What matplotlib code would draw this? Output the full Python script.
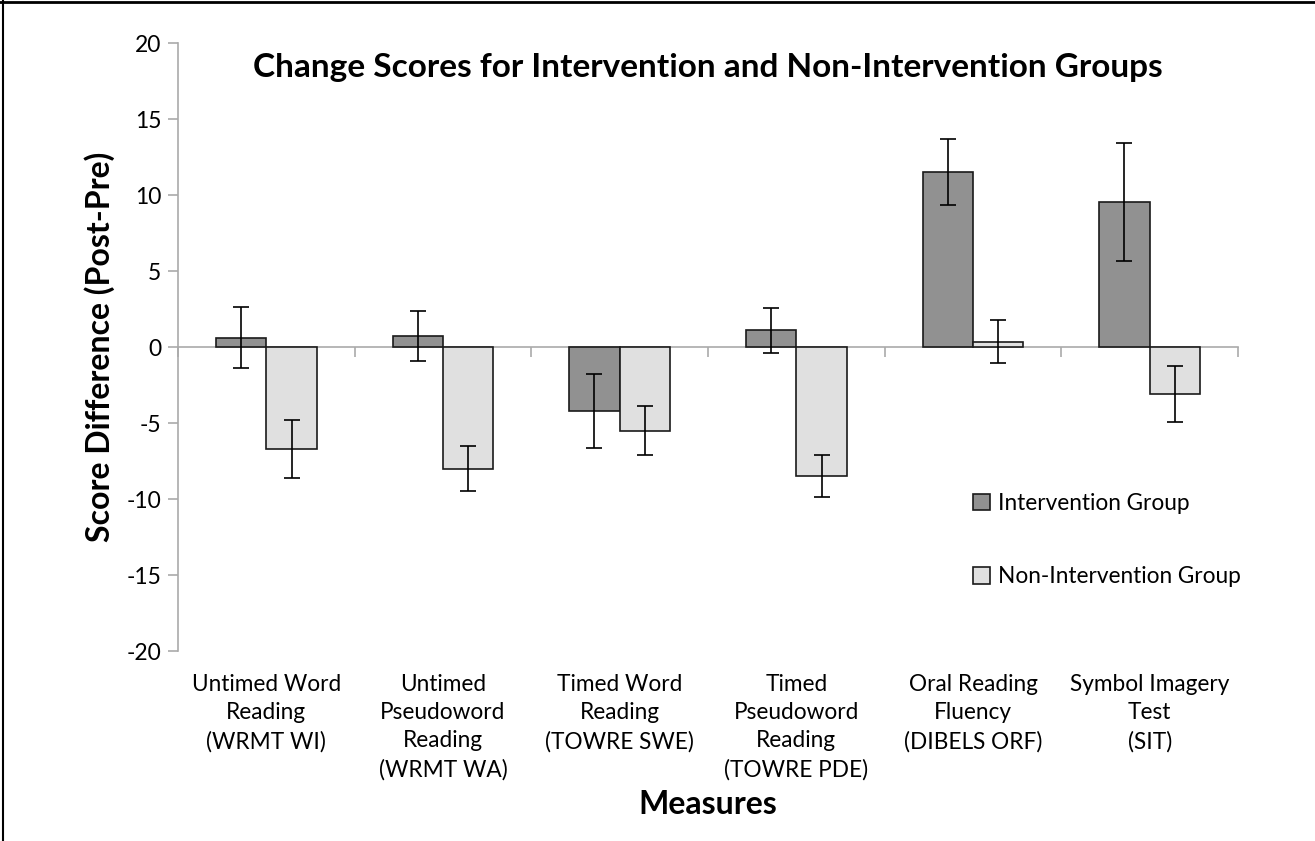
import matplotlib
matplotlib.use("Agg")
import matplotlib.pyplot as plt
import numpy as np
from matplotlib.lines import Line2D
import matplotlib.transforms as mtransforms

categories = [
    "Untimed Word\nReading\n(WRMT WI)",
    "Untimed\nPseudoword\nReading\n(WRMT WA)",
    "Timed Word\nReading\n(TOWRE SWE)",
    "Timed\nPseudoword\nReading\n(TOWRE PDE)",
    "Oral Reading\nFluency\n(DIBELS ORF)",
    "Symbol Imagery\nTest\n(SIT)",
]
intervention = [0.6, 0.7, -4.2, 1.1, 11.5, 9.55]
intervention_err = [2.0, 1.65, 2.43, 1.48, 2.18, 3.87]
non_intervention = [-6.7, -8.0, -5.5, -8.5, 0.35, -3.1]
non_intervention_err = [1.9, 1.5, 1.6, 1.4, 1.4, 1.84]
series_names = ["Intervention Group", "Non-Intervention Group"]
yticks = [20, 15, 10, 5, 0, -5, -10, -15, -20]

plt.rcParams['font.family'] = ['Lato', 'DejaVu Sans']

W, H = 1315, 841
fig = plt.figure(figsize=(W / 100, H / 100), dpi=100)
ax = fig.add_axes([178 / W, 1 - 651 / H, (1238 - 178) / W, (651 - 43) / H])

x = np.arange(len(categories))
bw = 1 / 3.5
ekw = dict(ecolor='black', elinewidth=1.2, capsize=6, capthick=1.2)
ax.bar(x - bw / 2, intervention, bw, color='#919191', edgecolor='#1a1a1a', linewidth=1.2,
       yerr=intervention_err, error_kw=ekw, label=series_names[0], zorder=3)
ax.bar(x + bw / 2, non_intervention, bw, color='#e0e0e0', edgecolor='#1a1a1a', linewidth=1.2,
       yerr=non_intervention_err, error_kw=ekw, label=series_names[1], zorder=3)

ax.set_xlim(-0.5, len(categories) - 0.5)
ax.set_ylim(-20, 20)
ax.set_yticks(yticks)
ax.set_yticklabels([str(v) for v in yticks], fontsize=16.5)
ax.tick_params(axis='y', direction='out', length=7, color='#aaaaaa', width=1.2, pad=5)

for s in ['top', 'right']:
    ax.spines[s].set_visible(False)
ax.spines['left'].set_color('#aaaaaa')
ax.spines['left'].set_linewidth(1.2)
ax.spines['bottom'].set_position(('data', 0))
ax.spines['bottom'].set_color('#aaaaaa')
ax.spines['bottom'].set_linewidth(1.2)
ax.spines['bottom'].set_zorder(2)
ax.set_xticks(np.arange(-0.5, len(categories), 1.0))
ax.set_xticklabels([])
ax.tick_params(axis='x', direction='out', length=7, color='#aaaaaa', width=1.2)

trans = mtransforms.blended_transform_factory(ax.transData, ax.transAxes)
for i, c in enumerate(categories):
    ax.text(i, -0.038, c, transform=trans, ha='center', va='top', fontsize=16.3,
            linespacing=1.42)

fig.text(0.5 * (178 + 1238) / W, 1 - 67 / H,
         "Change Scores for Intervention and Non-Intervention Groups",
         ha='center', va='center', fontsize=24, fontweight='bold')

fig.text(0.5 * (178 + 1238) / W, 1 - 805 / H, "Measures", ha='center', va='center',
         fontsize=23, fontweight='bold')
fig.text(100 / W, 1 - 347 / H, "Score Difference (Post-Pre)", ha='center', va='center',
         rotation=90, fontsize=23, fontweight='bold')

leg = ax.legend(loc='upper left', bbox_to_anchor=(964 / W, 1 - 484 / H),
                bbox_transform=fig.transFigure, frameon=False, fontsize=16.3,
                handlelength=0.75, handleheight=0.75, handletextpad=0.35,
                labelspacing=2.3, borderaxespad=0)

fig.add_artist(Line2D([0, 1], [1 - 1.5 / H, 1 - 1.5 / H], transform=fig.transFigure,
                      color='black', linewidth=2))
fig.add_artist(Line2D([2.5 / W, 2.5 / W], [0, 1], transform=fig.transFigure,
                      color='black', linewidth=1.5))

fig.savefig("out.png", dpi=100)
